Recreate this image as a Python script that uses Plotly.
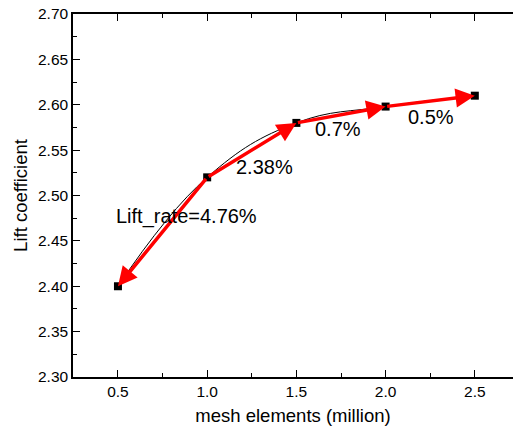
import plotly.graph_objects as go

mesh_million = [0.5, 1.0, 1.5, 2.0, 2.5]
lift_coef = [2.400, 2.520, 2.580, 2.598, 2.610]

# arrow pairs (start index, end index)
arrow_pairs = [(1, 0), (1, 2), (2, 3), (3, 4)]
label_texts = ["Lift_rate=4.76%", "2.38%", "0.7%", "0.5%"]
label_x = [0.886, 1.323, 1.732, 2.256]
label_y = [2.477, 2.5316, 2.5728, 2.586]

y_ticks = [2.30, 2.35, 2.40, 2.45, 2.50, 2.55, 2.60, 2.65, 2.70]
x_ticks = [0.5, 1.0, 1.5, 2.0, 2.5]

FONT = "Liberation Sans, Arial, sans-serif"

fig = go.Figure()
fig.add_trace(go.Scatter(
    x=mesh_million, y=lift_coef, mode="lines",
    line=dict(color="black", width=1, shape="spline", smoothing=1.2),
    showlegend=False, hoverinfo="skip"))

annotations = []
for (s, e) in arrow_pairs:
    annotations.append(dict(
        x=mesh_million[e], y=lift_coef[e], ax=mesh_million[s], ay=lift_coef[s],
        xref="x", yref="y", axref="x", ayref="y",
        showarrow=True, arrowhead=2, arrowsize=1.1, arrowwidth=3.5,
        arrowcolor="#ff0000", text="", standoff=0, startstandoff=0))
for t, lx, ly in zip(label_texts, label_x, label_y):
    annotations.append(dict(x=lx, y=ly, xref="x", yref="y", text=t,
                            showarrow=False, font=dict(size=20, color="black", family=FONT)))

fig.add_trace(go.Scatter(
    x=mesh_million, y=lift_coef, mode="markers",
    marker=dict(symbol="square", size=8, color="black"),
    showlegend=False))

fig.update_layout(
    width=513, height=432,
    margin=dict(l=73, r=0, t=14, b=55),
    paper_bgcolor="white", plot_bgcolor="white",
    font=dict(family=FONT, color="black"),
    annotations=annotations,
    xaxis=dict(range=[0.248, 2.714], tickvals=x_ticks, ticktext=[f"{v:.1f}" for v in x_ticks],
               showline=True, linecolor="black", linewidth=1.5, mirror="ticks",
               ticks="inside", ticklen=7, tickwidth=1.2, tickcolor="black",
               minor=dict(ticks="inside", ticklen=4, tickwidth=1.2, tickcolor="black", dtick=0.25, tick0=0.25),
               showgrid=False, zeroline=False,
               tickfont=dict(size=15.5, family=FONT),
               title=dict(text="mesh elements (million)", font=dict(size=18.5, family=FONT), standoff=10)),
    yaxis=dict(range=[2.30, 2.70], tickvals=y_ticks, ticktext=[f"{v:.2f}" for v in y_ticks],
               showline=True, linecolor="black", linewidth=1.5,
               ticks="inside", ticklen=7, tickwidth=1.2, tickcolor="black",
               minor=dict(ticks="inside", ticklen=4, tickwidth=1.2, tickcolor="black", dtick=0.025, tick0=2.275),
               showgrid=False, zeroline=False,
               tickfont=dict(size=15.5, family=FONT),
               title=dict(text="Lift coefficient", font=dict(size=18.5, family=FONT), standoff=6)),
)

fig.write_html("out.html")
